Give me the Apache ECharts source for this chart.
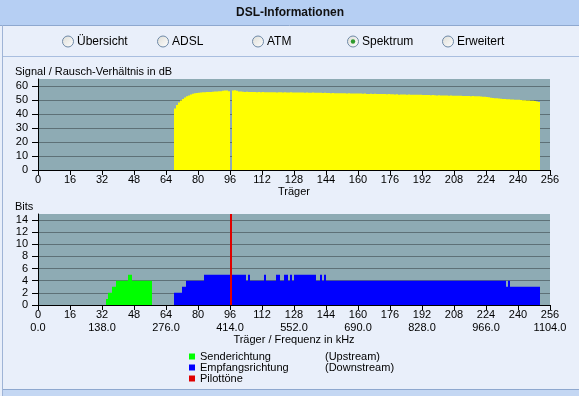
<!DOCTYPE html>
<html><head><meta charset="utf-8">
<script src="https://cdn.jsdelivr.net/npm/echarts@6/dist/echarts.min.js"></script>
<style>html,body{margin:0;padding:0;background:#e9effa;}#c{width:579px;height:396px;}</style>
</head><body><div id="c"></div>
<script>
// ---- data ----
const snrStart = 68; // first carrier with SNR
const snrValues = [
  43.9,46.5,48.3,49.6,50.8,51.7,52.6,53.3,53.9,54.4,54.8,55.0,
  55.2,55.4,55.5,55.6,55.7,55.8,55.8,55.9,56.0,56.1,
  56.2,56.3,56.6,56.8,56.7,56.2,0,56.8,56.9,56.6,
  56.0,
  56.0,55.9,55.8,55.9,55.8,55.7,55.8,55.7,55.6,55.7,
  55.6,55.7,55.6,55.5,55.6,55.5,55.6,55.5,55.4,55.5,
  55.5,55.4,55.5,55.4,55.4,55.5,55.3,55.4,55.3,55.4,
  55.3,55.3,55.2,55.3,55.2,55.2,55.3,55.1,55.2,55.1,
  55.1,55.0,55.1,55.0,55.0,54.9,55.0,54.9,54.9,54.8,
  54.8,54.9,54.8,54.7,54.8,54.7,54.7,54.6,54.7,54.6,
  54.6,54.5,54.6,54.2,54.3,54.4,54.3,54.4,54.3,54.3,
  54.2,54.3,54.2,54.1,54.2,54.1,54.1,54.0,54.1,53.8,
  53.9,54.0,53.9,53.8,53.9,53.8,53.8,53.7,53.8,53.7,
  53.7,53.6,53.5,53.6,53.5,53.4,53.5,53.4,53.3,53.4,
  53.3,53.2,53.3,53.2,53.1,53.2,53.1,53.0,53.1,53.0,
  53.0,52.9,52.8,52.9,52.8,52.7,52.8,52.7,52.6,52.7,
  52.5,52.4,52.3,52.1,51.9,51.6,51.5,51.3,51.2,51.0,
  50.9,50.8,50.7,50.6,50.5,50.4,50.3,50.2,50.2,50.1,
  50.0,49.9,49.8,49.7,49.6,49.5,49.4,49.2,49.0,48.6
];
const upStart = 34;
const upBits = [1,2,2,3,3,4,4,4,4,4,4,5,5,4,4,4,4,4,4,4,4,4,4];
const downStart = 68;
const downBits = [
  2,2,2,2,3,3,
  4,4,4,4,4,4,4,4,4,
  5,5,5,5,5,5,5,5,5,5,5,5,5,5,5,5,5,5,5,5,5,
  4,5,4,4,4,4,4,4,4,5,4,4,4,4,4,5,5,4,4,5,5,4,5,4,
  5,5,5,5,5,5,5,5,5,5,5,
  4,4,5,4,5,
  4,4,4,4,4,4,4,4,4,4,
  4,4,4,4,4,4,4,4,4,4,
  4,4,4,4,4,4,4,4,4,4,
  4,4,4,4,4,4,4,4,4,4,
  4,4,4,4,4,4,4,4,4,4,
  4,4,4,4,4,4,4,4,4,4,
  4,4,4,4,4,4,4,4,4,4,
  4,4,4,4,4,4,4,4,4,4,
  4,4,4,4,4,4,4,4,4,4,
  3,4,
  3,3,3,3,3,3,3,3,3,3,3,3,3,3,3
];
const pilotCarriers = [96];
const pilotBits = [15];
const freqLabels = {0:'0.0',32:'138.0',64:'276.0',96:'414.0',128:'552.0',160:'690.0',192:'828.0',224:'966.0',256:'1104.0'};
const radioItems = ['Übersicht','ADSL','ATM','Spektrum','Erweitert'];
const radioSelected = 'Spektrum';
const legendSuffix = {'Senderichtung':'(Upstream)','Empfangsrichtung':'(Downstream)','Pilottöne':''};

// ---- build ----
const toData = (start, arr) => arr.map((v, i) => [start + i + 0.5, v]);
const FONT = "'Liberation Sans', Arial, sans-serif";
const PLOT_BG = '#8eabb4';
const GRID_LINE = '#5e7177';

function xAxisCommon(idx, extra) {
  return Object.assign({
    type: 'value', gridIndex: idx, min: 0, max: 256, interval: 16,
    axisLine: {show: true, onZero: false, lineStyle: {color: '#000', width: 1}},
    axisTick: {show: true, length: 5, lineStyle: {color: '#000'}},
    splitLine: {show: false},
    nameLocation: 'middle',
    nameTextStyle: {fontFamily: FONT, fontSize: 11, color: '#000'}
  }, extra);
}
function yAxisCommon(idx, max, interval) {
  return {
    type: 'value', gridIndex: idx, min: 0, max: max, interval: interval,
    axisLine: {show: true, lineStyle: {color: '#000'}},
    axisTick: {show: true, length: 6, lineStyle: {color: '#000'}},
    axisLabel: {showMaxLabel: false, margin: 10, fontFamily: FONT, fontSize: 11, color: '#000'},
    splitLine: {show: true, showMaxLine: false, lineStyle: {color: GRID_LINE, width: 1}}
  };
}

const graphics = [
  {type: 'rect', shape: {x: 0, y: 0, width: 579, height: 25}, style: {fill: '#b6cff3'}, silent: true},
  {type: 'line', shape: {x1: 0, y1: 25.5, x2: 579, y2: 25.5}, style: {stroke: '#8ea8cf', lineWidth: 1}, silent: true},
  {type: 'line', shape: {x1: 2.5, y1: 25, x2: 2.5, y2: 396}, style: {stroke: '#9fb4d6', lineWidth: 1}, silent: true},
  {type: 'line', shape: {x1: 3, y1: 56.5, x2: 579, y2: 56.5}, style: {stroke: '#a9bedf', lineWidth: 1}, silent: true},
  {type: 'rect', shape: {x: 3, y: 390, width: 576, height: 6}, style: {fill: '#c4d7f3'}, silent: true},
  {type: 'line', shape: {x1: 3, y1: 389.5, x2: 579, y2: 389.5}, style: {stroke: '#8ea8cf', lineWidth: 1}, silent: true},
  {type: 'text', x: 290, y: 13, style: {text: 'DSL-Informationen', font: "bold 12px " + FONT, fill: '#111', align: 'center', verticalAlign: 'middle'}, silent: true},
  {type: 'text', x: 15, y: 72, style: {text: 'Signal / Rausch-Verhältnis in dB', font: "11px " + FONT, fill: '#000', verticalAlign: 'middle'}, silent: true},
  {type: 'text', x: 15, y: 207, style: {text: 'Bits', font: "11px " + FONT, fill: '#000', verticalAlign: 'middle'}, silent: true}
];
radioItems.forEach((name, i) => {
  const cx = 68 + i * 95, cy = 41.5;
  graphics.push({type: 'circle', shape: {cx: cx, cy: cy, r: 5.5}, style: {
    fill: new echarts.graphic.LinearGradient(0, 0, 1, 1, [{offset: 0, color: '#dcdcd6'}, {offset: 1, color: '#ffffff'}]),
    stroke: '#6f8aa8', lineWidth: 1}, silent: true});
  if (name === radioSelected) {
    graphics.push({type: 'circle', shape: {cx: cx, cy: cy, r: 2.2}, style: {fill: '#2e9a2e'}, silent: true});
  }
  graphics.push({type: 'text', x: cx + 9, y: cy, style: {text: name, font: "12px " + FONT, fill: '#000', verticalAlign: 'middle'}, silent: true});
});

const option = {
  backgroundColor: '#e9effa',
  animation: false,
  textStyle: {fontFamily: FONT},
  graphic: graphics,
  grid: [
    {left: 38, top: 79, width: 512, height: 91, show: true, backgroundColor: PLOT_BG, borderWidth: 0},
    {left: 38, top: 214, width: 512, height: 91, show: true, backgroundColor: PLOT_BG, borderWidth: 0}
  ],
  xAxis: [
    xAxisCommon(0, {name: 'Träger', nameGap: 16,
      axisLabel: {margin: 4, fontFamily: FONT, fontSize: 11, color: '#000'}}),
    xAxisCommon(1, {name: 'Träger / Frequenz in kHz', nameGap: 27,
      axisLabel: {margin: 3, fontFamily: FONT, fontSize: 11, color: '#000', lineHeight: 13,
        formatter: v => v + '\n' + (freqLabels[v] !== undefined ? freqLabels[v] : '')}})
  ],
  yAxis: [yAxisCommon(0, 65, 10), yAxisCommon(1, 15, 2)],
  legend: {
    orient: 'vertical', left: 189, top: 351, padding: 0, itemWidth: 6, itemHeight: 6, itemGap: 0,
    icon: 'rect', selectedMode: false,
    data: ['Senderichtung', 'Empfangsrichtung', 'Pilottöne'],
    textStyle: {fontFamily: FONT, fontSize: 11, color: '#000', lineHeight: 11,
      rich: {a: {width: 125, fontSize: 11, lineHeight: 11, fontFamily: FONT}, b: {fontSize: 11, lineHeight: 11, fontFamily: FONT}}},
    itemStyle: {borderWidth: 0},
    formatter: n => '{a|' + n + '}{b|' + legendSuffix[n] + '}'
  },
  series: [
    {name: 'SNR', type: 'bar', xAxisIndex: 0, yAxisIndex: 0, barWidth: 2,
      itemStyle: {color: '#ffff00'}, data: toData(snrStart, snrValues)},
    {name: 'Senderichtung', type: 'bar', xAxisIndex: 1, yAxisIndex: 1, barWidth: 2, barGap: '-100%',
      itemStyle: {color: '#00ff00'}, data: toData(upStart, upBits)},
    {name: 'Empfangsrichtung', type: 'bar', xAxisIndex: 1, yAxisIndex: 1, barWidth: 2, barGap: '-100%',
      itemStyle: {color: '#0000ff'}, data: toData(downStart, downBits)},
    {name: 'Pilottöne', type: 'bar', xAxisIndex: 1, yAxisIndex: 1, barWidth: 2, barGap: '-100%',
      itemStyle: {color: '#e00000'}, data: pilotCarriers.map((c, i) => [c + 0.5, pilotBits[i]])}
  ]
};
const chart = echarts.init(document.getElementById('c'), null, {renderer: 'canvas'});
chart.setOption(option);
</script></body></html>
